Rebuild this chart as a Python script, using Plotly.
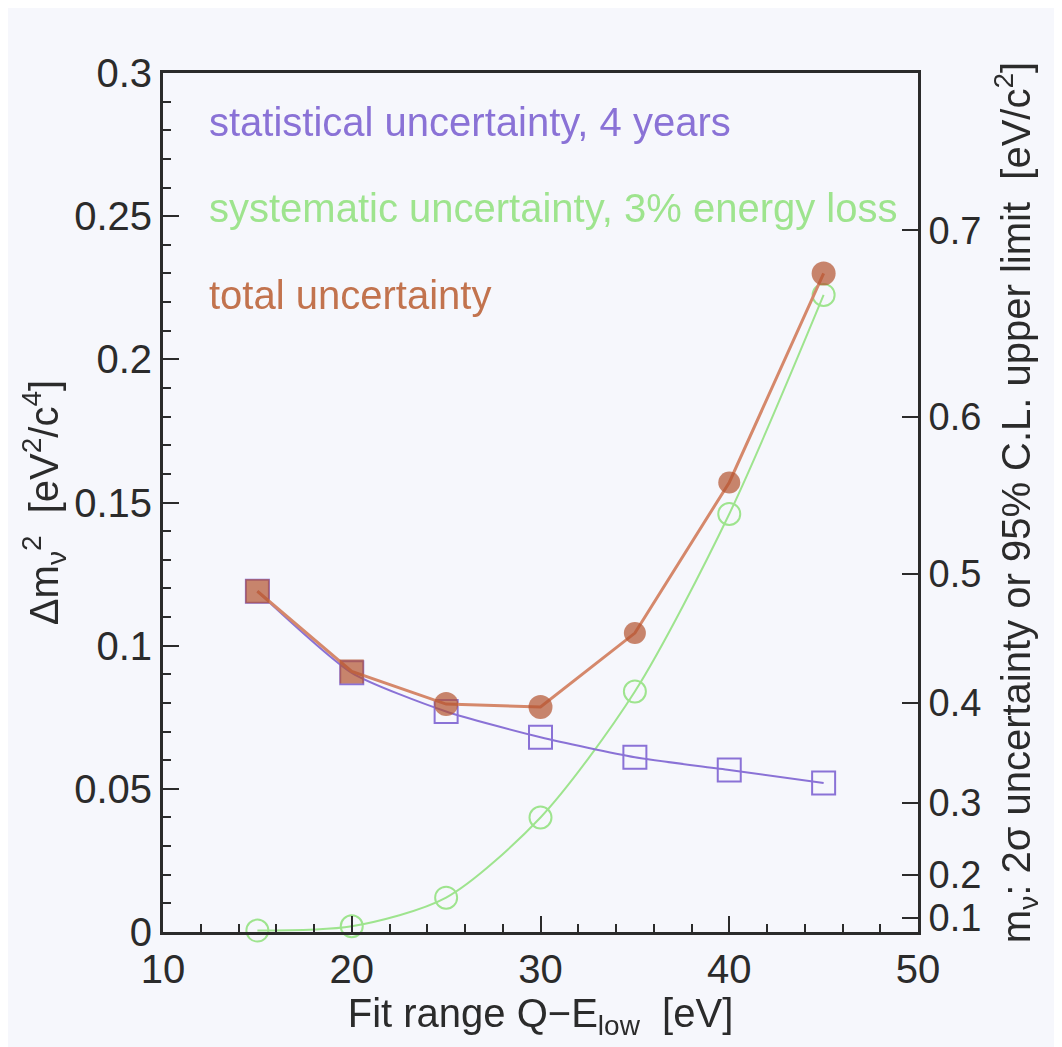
import plotly.graph_objects as go

# ---- data ----
fit_range = [15, 20, 25, 30, 35, 40, 45]
stat_unc = [0.119, 0.0905, 0.077, 0.068, 0.061, 0.0566, 0.052]
syst_unc = [0.0005, 0.002, 0.012, 0.040, 0.084, 0.146, 0.2225]
total_unc = [0.119, 0.091, 0.0796, 0.0786, 0.1044, 0.157, 0.230]

right_tick_labels = [0.1, 0.2, 0.3, 0.4, 0.5, 0.6, 0.7]   # m_nu [eV/c^2]
right_tick_pos = [m * m / 2 for m in right_tick_labels]      # corresponding Δm² position

legend_texts = ["statistical uncertainty, 4 years",
                "systematic uncertainty, 3% energy loss",
                "total uncertainty"]

PURPLE = "#8a72d6"
GREEN = "#9ee48e"
BROWN = "#b4532f"
BROWN_LINE = "#d5886b"
AX = "#2b2b2b"
BG = "#f6f7fc"
FONT = "Liberation Sans"

fig = go.Figure()

fig.add_trace(go.Scatter(
    x=fit_range, y=syst_unc, mode="lines+markers",
    line=dict(color=GREEN, width=2, shape="spline", smoothing=0.8),
    marker=dict(symbol="circle-open", size=22, color=GREEN, line=dict(width=2, color=GREEN)),
    showlegend=False, cliponaxis=False))

fig.add_trace(go.Scatter(
    x=fit_range, y=stat_unc, mode="lines+markers",
    line=dict(color=PURPLE, width=2, shape="spline", smoothing=0.6),
    marker=dict(symbol="square-open", size=23, color=PURPLE, line=dict(width=2, color=PURPLE)),
    showlegend=False))

fig.add_trace(go.Scatter(
    x=fit_range, y=total_unc, mode="lines+markers",
    line=dict(color=BROWN_LINE, width=3),
    marker=dict(symbol=["square", "square", "circle", "circle", "circle", "circle", "circle"],
                size=[24, 24, 24, 24, 22, 22, 24], color=BROWN,
                line=dict(width=0)),
    showlegend=False))

# invisible copy on the secondary axis so that the right axis is drawn
fig.add_trace(go.Scatter(
    x=fit_range, y=total_unc, yaxis="y2", mode="markers", opacity=0,
    marker=dict(size=1), hoverinfo="skip", showlegend=False))

legend_colors = [PURPLE, GREEN, "#c2734e"]
legend_y = [0.943, 0.843, 0.741]
for txt, col, yy in zip(legend_texts, legend_colors, legend_y):
    fig.add_annotation(text=txt, xref="paper", yref="paper", x=0.058, y=yy,
                       xanchor="left", yanchor="middle", showarrow=False,
                       font=dict(family=FONT, size=40, color=col))

fig.update_layout(
    width=1062, height=1047,
    margin=dict(l=155, r=152, t=65, b=123),
    paper_bgcolor=BG, plot_bgcolor=BG,
    font=dict(family=FONT, color=AX),
    xaxis=dict(
        range=[10, 50], tickvals=[10, 20, 30, 40, 50], ticks="inside", ticklen=16,
        tickwidth=2, tickcolor=AX,
        minor=dict(dtick=2, ticks="inside", ticklen=8, tickwidth=2, tickcolor=AX),
        showline=True, linecolor=AX, linewidth=3, mirror=True, showgrid=False, zeroline=False,
        tickfont=dict(size=40, color=AX),
        title=dict(text="Fit range Q−E<sub>low</sub>  [eV]", font=dict(size=40, color=AX), standoff=0),
    ),
    yaxis=dict(
        range=[0, 0.3], tickvals=[0, 0.05, 0.1, 0.15, 0.2, 0.25, 0.3],
        ticktext=["0", "0.05", "0.1", "0.15", "0.2", "0.25", "0.3"],
        ticks="inside", ticklen=16, tickwidth=2, tickcolor=AX,
        minor=dict(dtick=0.01, ticks="inside", ticklen=8, tickwidth=2, tickcolor=AX),
        showline=True, linecolor=AX, linewidth=3, showgrid=False, zeroline=False,
        tickfont=dict(size=40, color=AX),
        title=dict(text="Δm<sub>ν</sub><sup>2</sup>  [eV<sup>2</sup>/c<sup>4</sup>]",
                   font=dict(size=40, color=AX), standoff=4),
    ),
    yaxis2=dict(
        overlaying="y", side="right", range=[0, 0.3],
        tickvals=right_tick_pos, ticktext=[str(v) for v in right_tick_labels],
        ticks="inside", ticklen=16, tickwidth=2, tickcolor=AX,
        showline=True, linecolor=AX, linewidth=3, showgrid=False, zeroline=False,
        tickfont=dict(size=38, color=AX),
        title=dict(text="m<sub>ν</sub>: 2σ uncertainty or 95% C.L. upper limit  [eV/c<sup>2</sup>]",
                   font=dict(size=40, color=AX), standoff=22),
    ),
)

fig.write_html("out.html")
